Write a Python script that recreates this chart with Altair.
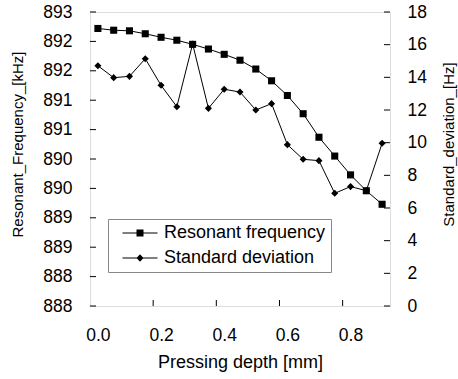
import altair as alt
import pandas as pd

depth = [0.0, 0.05, 0.1, 0.15, 0.2, 0.25, 0.3, 0.35, 0.4, 0.45, 0.5, 0.55, 0.6, 0.65, 0.7, 0.75, 0.8, 0.85, 0.9]
freq = [892.72, 892.69, 892.68, 892.63, 892.57, 892.52, 892.45, 892.37, 892.28, 892.18, 892.03,
        891.83, 891.58, 891.27, 890.87, 890.55, 890.23, 889.96, 889.73]
std = [14.71, 13.98, 14.06, 15.14, 13.51, 12.20, 16.04, 12.10, 13.27, 13.10, 12.0,
       12.39, 9.88, 8.98, 8.90, 6.90, 7.31, 7.06, 9.96]
series_names = ["Resonant frequency", "Standard deviation"]
left_ticks = [888.0, 888.5, 889.0, 889.5, 890.0, 890.5, 891.0, 891.5, 892.0, 892.5, 893.0]
right_ticks = [0, 2, 4, 6, 8, 10, 12, 14, 16, 18]
x_label_values = [0.0, 0.2, 0.4, 0.6, 0.8]
x_tick_values = [0.175, 0.375, 0.575, 0.775]

W, H = 300, 294
FONT = "Liberation Sans"
TICK_FS = 17.5

df = pd.DataFrame({"depth": depth, "freq": freq, "std": std})
lt = pd.DataFrame({"v": left_ticks})
rt = pd.DataFrame({"v": right_ticks})
xt = pd.DataFrame({"depth": x_tick_values})
leg = pd.DataFrame({"series": series_names, "depth": [0.0, 0.0], "v": [0.0, 0.0]})

xscale = alt.Scale(domain=[-0.025, 0.925], nice=False, zero=False)
xenc = alt.X("depth:Q", scale=xscale, axis=alt.Axis(
    values=x_label_values, format=".1f", ticks=False, tickSize=0, domain=False, grid=False,
    labelFontSize=TICK_FS, labelPadding=20, labelColor="black", labelFont=FONT,
    title="Pressing depth [mm]", titleFontSize=18, titleFontWeight="normal", titleFont=FONT,
    titleColor="black", titlePadding=10))

fscale = alt.Scale(domain=[888, 893], nice=False, zero=False)
sscale = alt.Scale(domain=[0, 18], nice=False, zero=False)

left_axis = alt.Axis(values=left_ticks, labelExpr="floor(datum.value)", ticks=False, tickSize=0,
                     domain=False, grid=False, labelFontSize=TICK_FS, labelPadding=18, labelColor="black",
                     labelFont=FONT, title="Resonant_Frequency_[kHz]", titleFontSize=15,
                     titleFontWeight="normal", titleFont=FONT, titleColor="black",
                     titleAngle=270, titleX=-73, titleY=132, titleAlign="center", titleBaseline="middle")
right_axis = alt.Axis(orient="right", values=right_ticks, ticks=False, tickSize=0, domain=False, grid=False,
                      labelFontSize=TICK_FS, labelPadding=17, labelColor="black", labelFont=FONT,
                      title="Standard_deviation_[Hz]", titleFontSize=15, titleFontWeight="normal",
                      titleFont=FONT, titleColor="black", titleAngle=270, titleX=58, titleY=132,
                      titleAlign="center", titleBaseline="middle")

base = alt.Chart(df)
f_line = base.mark_line(color="black", strokeWidth=1).encode(
    x=xenc, y=alt.Y("freq:Q", scale=fscale, axis=left_axis))
f_pts = base.mark_point(shape="square", filled=True, size=50, color="black", opacity=1).encode(
    x=xenc, y=alt.Y("freq:Q", scale=fscale, axis=None))
s_line = base.mark_line(color="black", strokeWidth=1).encode(
    x=xenc, y=alt.Y("std:Q", scale=sscale, axis=right_axis))
s_pts = base.mark_point(shape="diamond", filled=True, size=50, color="black", opacity=1).encode(
    x=xenc, y=alt.Y("std:Q", scale=sscale, axis=None))

l_ticks = alt.Chart(lt).mark_tick(color="black", thickness=1, size=6, orient="horizontal", opacity=1).encode(
    y=alt.Y("v:Q", scale=fscale, axis=None), x=alt.value(3))
r_ticks = alt.Chart(rt).mark_tick(color="black", thickness=1, size=6, orient="horizontal", opacity=1).encode(
    y=alt.Y("v:Q", scale=sscale, axis=None), x=alt.value(W - 3))
x_ticks = alt.Chart(xt).mark_tick(color="black", thickness=1, size=6, orient="vertical", opacity=1).encode(
    x=xenc, y=alt.value(H - 3))

sq_path = "M-5,-0.15H5V0.15H-5ZM-1,-1H1V1H-1Z"
dm_path = "M-5,-0.15H5V0.15H-5ZM0,-1.1L1,0L0,1.1L-1,0Z"
legend_layer = alt.Chart(leg).transform_filter("false").mark_point(filled=True, size=49, color="black").encode(
    x=xenc, y=alt.Y("v:Q", scale=sscale, axis=None),
    shape=alt.Shape("series:N", scale=alt.Scale(domain=series_names, range=[sq_path, dm_path]),
                    legend=alt.Legend(orient="none", legendX=18, legendY=207, title=None,
                                      strokeColor="#888888", padding=5, fillColor="white",
                                      symbolSize=49, symbolFillColor="black",
                                      symbolStrokeWidth=0, symbolOpacity=1, symbolOffset=18,
                                      labelOffset=15, labelFontSize=18, labelFont=FONT,
                                      labelColor="black", rowPadding=7, labelLimit=300)))

chart = alt.layer(f_line, s_line, f_pts, s_pts, l_ticks, r_ticks, x_ticks, legend_layer).resolve_scale(
    y="independent").properties(
    width=W, height=H,
    autosize=alt.AutoSizeParams(type="none"),
    padding={"left": 90, "top": 12, "right": 68, "bottom": 73},
).configure_view(stroke="black", strokeWidth=2).configure(background="white")

chart.save("out.html", embed_options={"renderer": "svg", "actions": False})
